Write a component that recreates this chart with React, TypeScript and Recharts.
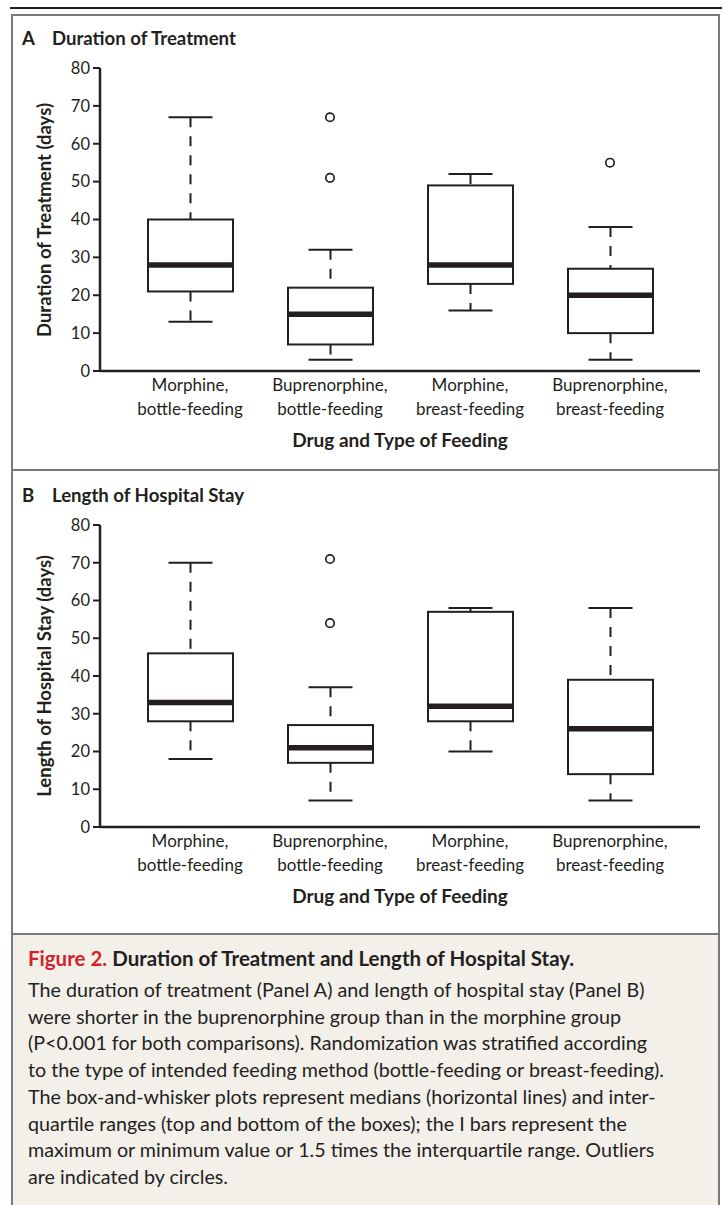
import { Bar, ComposedChart, Scatter, XAxis, YAxis } from 'recharts'

const INK = '#231f20'
const FRAME = '#7a7a7a'
const FONT = 'Lato, "Open Sans", sans-serif'

const categories = [
  'Morphine, bottle-feeding',
  'Buprenorphine, bottle-feeding',
  'Morphine, breast-feeding',
  'Buprenorphine, breast-feeding',
]
const yTicks = [0, 10, 20, 30, 40, 50, 60, 70, 80]

// Panel A: duration of treatment (days)
const treatMin = [13, 3, 16, 3]
const treatQ1 = [21, 7, 23, 10]
const treatMedian = [28, 15, 28, 20]
const treatQ3 = [40, 22, 49, 27]
const treatMax = [67, 32, 52, 38]
const treatOutliers: number[][] = [[], [51, 67], [], [55]]

// Panel B: length of hospital stay (days)
const stayMin = [18, 7, 20, 7]
const stayQ1 = [28, 17, 28, 14]
const stayMedian = [33, 21, 32, 26]
const stayQ3 = [46, 27, 57, 39]
const stayMax = [70, 37, 58, 58]
const stayOutliers: number[][] = [[], [54, 71], [], []]

const captionLines = [
  'The duration of treatment (Panel A) and length of hospital stay (Panel B)',
  'were shorter in the buprenorphine group than in the morphine group',
  '(P<0.001 for both comparisons). Randomization was stratified according',
  'to the type of intended feeding method (bottle-feeding or breast-feeding).',
  'The box-and-whisker plots represent medians (horizontal lines) and inter-',
  'quartile ranges (top and bottom of the boxes); the I bars represent the',
  'maximum or minimum value or 1.5 times the interquartile range. Outliers',
  'are indicated by circles.',
]

type Row = {
  name: string
  min: number
  q1: number
  median: number
  q3: number
  max: number
  box: [number, number]
  out1: number | null
  out2: number | null
}

function buildRows(
  mins: number[],
  q1s: number[],
  medians: number[],
  q3s: number[],
  maxs: number[],
  outliers: number[][]
): Row[] {
  return categories.map((name, i) => ({
    name,
    min: mins[i],
    q1: q1s[i],
    median: medians[i],
    q3: q3s[i],
    max: maxs[i],
    box: [q1s[i], q3s[i]],
    out1: outliers[i][0] ?? null,
    out2: outliers[i][1] ?? null,
  }))
}

const treatRows = buildRows(treatMin, treatQ1, treatMedian, treatQ3, treatMax, treatOutliers)
const stayRows = buildRows(stayMin, stayQ1, stayMedian, stayQ3, stayMax, stayOutliers)

// box + whiskers, scaled from the range bar the library laid out
function BoxShape(props: any) {
  const { x, y, width, height, payload } = props
  const top = Math.min(y, y + height)
  const h = Math.abs(height)
  const ppu = h / (payload.q3 - payload.q1)
  const py = (v: number) => top + (payload.q3 - v) * ppu
  const cx = x + width / 2
  const cap = 22
  return (
    <g>
      <line x1={cx} x2={cx} y1={py(payload.max)} y2={top} stroke={INK} strokeWidth={2} strokeDasharray="10 9" />
      <line x1={cx} x2={cx} y1={top + h} y2={py(payload.min)} stroke={INK} strokeWidth={2} strokeDasharray="10 9" />
      <line x1={cx - cap} x2={cx + cap} y1={py(payload.max)} y2={py(payload.max)} stroke={INK} strokeWidth={2} />
      <line x1={cx - cap} x2={cx + cap} y1={py(payload.min)} y2={py(payload.min)} stroke={INK} strokeWidth={2} />
      <rect x={x} y={top} width={width} height={h} fill="#fff" stroke={INK} strokeWidth={2} />
      <line x1={x + 1} x2={x + width - 1} y1={py(payload.median)} y2={py(payload.median)} stroke={INK} strokeWidth={5.5} />
    </g>
  )
}

function OutlierDot(props: any) {
  const { cx, cy } = props
  if (cx == null || cy == null || Number.isNaN(cx) || Number.isNaN(cy)) return <g />
  return <circle cx={cx} cy={cy} r={4.2} fill="#fff" stroke={INK} strokeWidth={1.7} />
}

function CategoryTick(props: any) {
  const { x, y, payload } = props
  const [drug, feeding] = String(payload.value).split(', ')
  return (
    <g>
      <text x={x} y={y + 20} textAnchor="middle" fontSize={17} fill={INK}>
        {drug},
      </text>
      <text x={x} y={y + 44} textAnchor="middle" fontSize={17} fill={INK}>
        {feeding}
      </text>
    </g>
  )
}

function BoxPanel(props: {
  top: number
  height: number
  rows: Row[]
  letter: string
  title: string
  yLabel: string
}) {
  const { top, height, rows, letter, title, yLabel } = props
  const plotTop = top + 68
  const plotBottom = top + height - 79
  const mid = (plotTop + plotBottom) / 2
  return (
    <>
      <div style={{ position: 'absolute', left: 22, top: top + 26, fontSize: 18.6, fontWeight: 700, lineHeight: '24px', whiteSpace: 'nowrap' }}>
        {letter}
        <span style={{ position: 'absolute', left: 30 }}>{title}</span>
      </div>
      <div
        style={{
          position: 'absolute',
          left: 44 - 160,
          top: mid - 12,
          width: 320,
          height: 24,
          lineHeight: '24px',
          textAlign: 'center',
          fontSize: 18.5,
          fontWeight: 700,
          transform: 'rotate(-90deg)',
          whiteSpace: 'nowrap',
        }}
      >
        {yLabel}
      </div>
      <div style={{ position: 'absolute', left: 250, top: plotBottom + 57, width: 300, textAlign: 'center', fontSize: 19, fontWeight: 700, lineHeight: '24px' }}>
        Drug and Type of Feeding
      </div>
      <div style={{ position: 'absolute', left: 0, top }}>
        <ComposedChart width={723} height={height} data={rows} margin={{ top: 68, right: 23, bottom: 0, left: 40 }}>
          <XAxis
            dataKey="name"
            type="category"
            padding={{ left: 20, right: 20 }}
            height={79}
            axisLine={{ stroke: INK, strokeWidth: 2.5 }}
            tickLine={false}
            tickSize={0}
            tickMargin={0}
            tick={<CategoryTick />}
            interval={0}
          />
          <YAxis
            type="number"
            domain={[0, 80]}
            ticks={yTicks}
            interval={0}
            width={60}
            axisLine={{ stroke: INK, strokeWidth: 2.5 }}
            tickLine={{ stroke: INK, strokeWidth: 2 }}
            tickSize={7}
            tickMargin={3}
            tick={{ fontSize: 16.5, fill: INK }}
          />
          <Bar dataKey="box" barSize={85} shape={<BoxShape />} isAnimationActive={false} />
          <Scatter dataKey="out1" shape={<OutlierDot />} isAnimationActive={false} />
          <Scatter dataKey="out2" shape={<OutlierDot />} isAnimationActive={false} />
        </ComposedChart>
      </div>
    </>
  )
}

export default function App() {
  return (
    <div style={{ position: 'absolute', left: 0, top: 0, width: 723, height: 1205, overflow: 'hidden', background: '#fff', fontFamily: FONT, color: INK }}>
      <div style={{ position: 'absolute', left: 10, top: 7, width: 712, height: 2, background: INK }} />
      <div
        style={{
          position: 'absolute',
          left: 11,
          top: 14,
          width: 705,
          height: 1205,
          borderTop: `2px solid ${FRAME}`,
          borderLeft: `2px solid ${FRAME}`,
          borderRight: `2px solid ${FRAME}`,
        }}
      />
      <div style={{ position: 'absolute', left: 13, top: 469, width: 705, height: 2, background: FRAME }} />
      <div style={{ position: 'absolute', left: 13, top: 933, width: 705, height: 272, background: '#f3f0ea', borderTop: `2px solid ${FRAME}` }} />

      <BoxPanel top={0} height={450} rows={treatRows} letter="A" title="Duration of Treatment" yLabel="Duration of Treatment (days)" />
      <BoxPanel top={457} height={449} rows={stayRows} letter="B" title="Length of Hospital Stay" yLabel="Length of Hospital Stay (days)" />

      <div style={{ position: 'absolute', left: 28, top: 944, fontSize: 20.5, fontWeight: 700, lineHeight: '28px', whiteSpace: 'nowrap' }}>
        <span style={{ color: '#d2232a' }}>Figure 2.</span> Duration of Treatment and Length of Hospital Stay.
      </div>
      <div style={{ position: 'absolute', left: 28, top: 977, fontSize: 19.7, lineHeight: '26.7px' }}>
        {captionLines.map((line) => (
          <div key={line} style={{ whiteSpace: 'nowrap' }}>
            {line}
          </div>
        ))}
      </div>
    </div>
  )
}
